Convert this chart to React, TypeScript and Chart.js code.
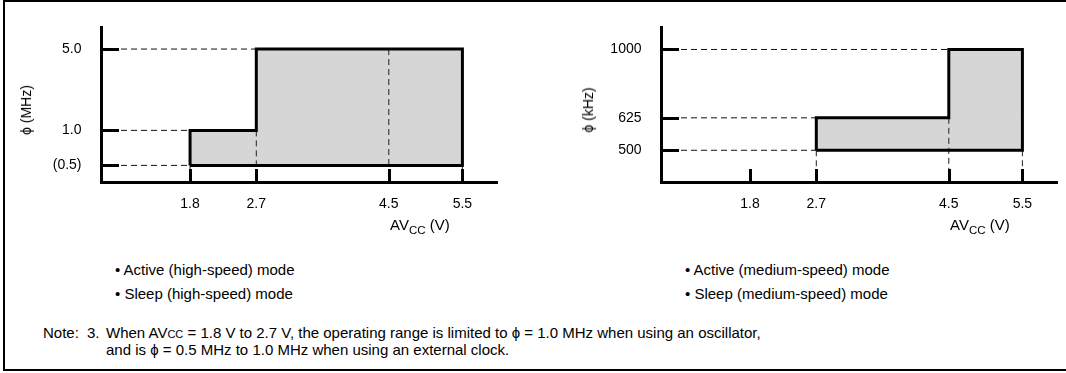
import React, { useEffect, useRef } from "react";
import { Chart, registerables } from "chart.js";
Chart.register(...registerables);

const FONT = '"Liberation Sans", Arial, Helvetica, sans-serif';

// shared x axis (AVcc, V)
const xTicks = [1.8, 2.7, 4.5, 5.5];
const xMin = 0.59;
const xMax = 5.97;

// left: high-speed mode, phi in MHz
const hsYTicks = [0.5, 1.0, 5.0];
const hsYLabels = ["(0.5)", "1.0", "5.0"];
const hsYMin = 0.36;
const hsYMax = 7.6;
const hsX = [1.8, 1.8, 2.7, 2.7, 5.5, 5.5, 1.8];
const hsY = [0.5, 1.0, 1.0, 5.0, 5.0, 0.5, 0.5];
const hsHGuides = [[5.0, 2.7], [1.0, 1.8], [0.5, 1.8]]; // [y, xEnd]
const hsVGuides = [[1.8, 0.5], [2.7, 1.0], [4.5, 5.0], [5.5, 0.5]]; // [x, yTop]

// right: medium-speed mode, phi in kHz
const msYTicks = [500, 625, 1000];
const msYLabels = ["500", "625", "1000"];
const msYMin = 402;
const msYMax = 1160;
const msX = [2.7, 2.7, 4.5, 4.5, 5.5, 5.5, 2.7];
const msY = [500, 625, 625, 1000, 1000, 500, 500];
const msHGuides = [[1000, 4.5], [625, 2.7], [500, 2.7]];
const msVGuides = [[2.7, 500], [4.5, 625], [5.5, 500]];

const tickMarks = {
  id: "tickMarks",
  afterDatasetsDraw(chart: any) {
    const { ctx, chartArea, scales } = chart;
    ctx.save();
    ctx.strokeStyle = "#000";
    ctx.lineWidth = 3;
    scales.y.ticks.forEach((t: any) => {
      const py = Math.round(scales.y.getPixelForValue(t.value)) + 0.5;
      ctx.beginPath();
      ctx.moveTo(chartArea.left, py);
      ctx.lineTo(chartArea.left + 18, py);
      ctx.stroke();
    });
    scales.x.ticks.forEach((t: any) => {
      const px = Math.round(scales.x.getPixelForValue(t.value)) + 0.5;
      ctx.beginPath();
      ctx.moveTo(px, chartArea.bottom);
      ctx.lineTo(px, chartArea.bottom - 13);
      ctx.stroke();
    });
    ctx.restore();
  },
};

function buildConfig(
  px: number[],
  py: number[],
  yTicks: number[],
  yLabels: string[],
  yMin: number,
  yMax: number,
  hGuides: number[][],
  vGuides: number[][],
  rightPad: number
): any {
  const base = py[0];
  const datasets: any[] = [];
  datasets.push({
    data: px.slice(1, 5).map((x, i) => ({ x, y: py[i + 1] })),
    borderWidth: 0,
    backgroundColor: "#d6d6d6",
    fill: { value: base },
    pointRadius: 0,
    order: 10,
  });
  hGuides.forEach(([y, xe]) =>
    datasets.push({
      data: [{ x: xMin, y }, { x: xe, y }],
      borderColor: "#111",
      borderWidth: 1,
      borderDash: [6, 4],
      pointRadius: 0,
      fill: false,
      order: 5,
    })
  );
  vGuides.forEach(([x, yt]) =>
    datasets.push({
      data: [{ x, y: yt }, { x, y: yMin }],
      borderColor: "#222",
      borderWidth: 1,
      borderDash: [6, 4],
      pointRadius: 0,
      fill: false,
      order: 5,
    })
  );
  datasets.push({
    data: px.map((x, i) => ({ x, y: py[i] })),
    borderColor: "#000",
    borderWidth: 3,
    pointRadius: 0,
    fill: false,
    order: 1,
  });

  return {
    type: "line",
    data: { datasets },
    plugins: [tickMarks],
    options: {
      animation: false,
      responsive: false,
      devicePixelRatio: 1,
      events: [],
      layout: { padding: { top: 14.6, right: rightPad, left: 0, bottom: 0 } },
      plugins: { legend: { display: false }, tooltip: { enabled: false } },
      scales: {
        x: {
          type: "linear",
          position: "bottom",
          min: xMin,
          max: xMax,
          afterBuildTicks: (s: any) => {
            s.ticks = xTicks.map((v) => ({ value: v }));
          },
          afterFit: (s: any) => {
            s.height = 68;
          },
          ticks: {
            autoSkip: false,
            maxRotation: 0,
            padding: 14,
            color: "#000",
            font: { size: 14, family: FONT },
            callback: (v: number) => Number(v).toFixed(1),
          },
          grid: { display: false, drawTicks: false },
          border: { display: true, color: "#000", width: 3 },
        },
        y: {
          type: "logarithmic",
          min: yMin,
          max: yMax,
          afterBuildTicks: (s: any) => {
            s.ticks = yTicks.map((v) => ({ value: v }));
          },
          afterFit: (s: any) => {
            s.width = 101;
          },
          ticks: {
            autoSkip: false,
            padding: 19.5,
            color: "#000",
            font: { size: 14, family: FONT },
            callback: (v: number) => {
              const i = yTicks.indexOf(Number(v));
              return i >= 0 ? yLabels[i] : "";
            },
          },
          grid: { display: false, drawTicks: false },
          border: { display: true, color: "#000", width: 3 },
        },
      },
    },
  };
}

function ChartCanvas(props: { cfg: () => any; width: number; height: number; left: number }) {
  const ref = useRef<HTMLCanvasElement>(null);
  useEffect(() => {
    const chart = new Chart(ref.current as HTMLCanvasElement, props.cfg());
    return () => chart.destroy();
  }, []);
  return (
    <canvas
      ref={ref}
      width={props.width}
      height={props.height}
      style={{ position: "absolute", left: props.left, top: 0, width: props.width, height: props.height }}
    />
  );
}

const txt: React.CSSProperties = { position: "absolute", whiteSpace: "nowrap", fontFamily: FONT, color: "#000" };

function XTitle({ left }: { left: number }) {
  return (
    <div style={{ ...txt, left, top: 216, fontSize: 15, lineHeight: "17px" }}>
      AV<span style={{ fontSize: 11.5, position: "relative", top: 4 }}>CC</span> (V)
    </div>
  );
}

function YTitle({ cx, text }: { cx: number; text: string }) {
  return (
    <div
      style={{
        ...txt,
        left: cx,
        top: 110,
        fontSize: 14,
        lineHeight: "16px",
        transform: "translate(-50%, -50%) rotate(-90deg)",
      }}
    >
      {text}
    </div>
  );
}

export default function App() {
  useEffect(() => {
    document.body.style.margin = "0";
    Chart.defaults.font.family = FONT;
  }, []);
  return (
    <div style={{ position: "relative", width: 1066, height: 373, overflow: "hidden", background: "#fff" }}>
      <div
        style={{
          position: "absolute",
          left: 3,
          top: 0,
          width: 1080,
          height: 367,
          borderLeft: "2px solid #000",
          borderTop: "2px solid #000",
          borderBottom: "2px solid #000",
        }}
      />
      <ChartCanvas
        left={0}
        width={530}
        height={250}
        cfg={() => buildConfig(hsX, hsY, hsYTicks, hsYLabels, hsYMin, hsYMax, hsHGuides, hsVGuides, 33)}
      />
      <ChartCanvas
        left={560}
        width={506}
        height={250}
        cfg={() => buildConfig(msX, msY, msYTicks, msYLabels, msYMin, msYMax, msHGuides, msVGuides, 9)}
      />
      <YTitle cx={26} text="ϕ (MHz)" />
      <YTitle cx={588} text="ϕ (kHz)" />
      <XTitle left={390} />
      <XTitle left={950} />

      <div style={{ ...txt, left: 115, top: 258, fontSize: 15, lineHeight: "24px" }}>
        <div>• Active (high-speed) mode</div>
        <div>• Sleep (high-speed) mode</div>
      </div>
      <div style={{ ...txt, left: 685, top: 258, fontSize: 15, lineHeight: "24px" }}>
        <div>• Active (medium-speed) mode</div>
        <div>• Sleep (medium-speed) mode</div>
      </div>

      <div style={{ ...txt, left: 43, top: 325, fontSize: 15, lineHeight: "16px" }}>Note:</div>
      <div style={{ ...txt, left: 87, top: 325, fontSize: 15, lineHeight: "16px" }}>3.</div>
      <div style={{ ...txt, left: 106, top: 325, fontSize: 15, lineHeight: "16px" }}>
        <div>
          When AV<span style={{ fontSize: 11 }}>CC</span> = 1.8 V to 2.7 V, the operating range is limited to ϕ = 1.0 MHz
          when using an oscillator,
        </div>
        <div>and is ϕ = 0.5 MHz to 1.0 MHz when using an external clock.</div>
      </div>
    </div>
  );
}
